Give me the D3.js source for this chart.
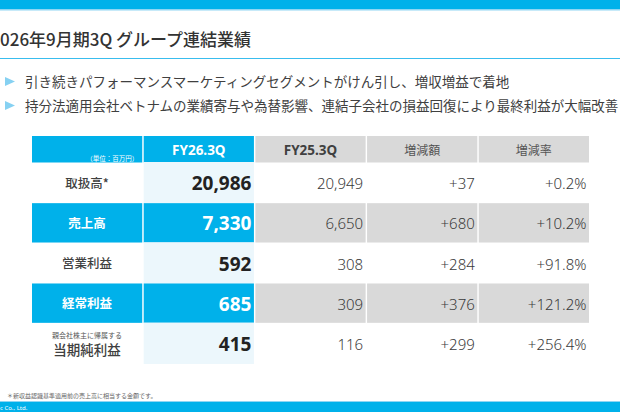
<!DOCTYPE html>
<html>
<head>
<meta charset="utf-8">
<script src="https://cdn.jsdelivr.net/npm/d3@7"></script>
<style>
  html, body { margin: 0; padding: 0; background: #fff; }
  svg { display: block; }
</style>
</head>
<body>
<div id="chart"></div>
<script>
"use strict"

// ---- data ----
let title = "2026年9月期3Q グループ連結業績";
let bullets = [
    "引き続きパフォーマンスマーケティングセグメントがけん引し、増収増益で着地",
    "持分法適用会社ベトナムの業績寄与や為替影響、連結子会社の損益回復により最終利益が大幅改善"
];
let columns = ["label", "fy26", "fy25", "diff", "rate"];
let headers = ["", "FY26.3Q", "FY25.3Q", "増減額", "増減率"];
let unitNote = "（単位：百万円）";
let rowLabels = ["取扱高*", "売上高", "営業利益", "経常利益", "当期純利益"];
let rowSubLabels = ["", "", "", "", "親会社株主に帰属する"];
let fy26 = ["20,986", "7,330", "592", "685", "415"];
let fy25 = ["20,949", "6,650", "308", "309", "116"];
let diff = ["+37", "+680", "+284", "+376", "+299"];
let rate = ["+0.2%", "+10.2%", "+91.8%", "+121.2%", "+256.4%"];
let highlighted = ["売上高", "経常利益"];
let footnote = "＊新収益認識基準適用前の売上高に相当する金額です。";
let copyright = "c Co., Ltd.";

let W = 620, H = 412;
let blue = "#00b1ea", gray = "#d9d9d9", pale = "#ecf7fc";
let jp = "'Noto Sans CJK JP', 'Noto Sans', sans-serif";
let num = "'Noto Sans', 'Noto Sans CJK JP', sans-serif";

let svg = d3.select("#chart").append("svg")
    .attr("width", W)
    .attr("height", H);

drawFrame();
drawBullets();
drawTable();

function drawFrame() {
    svg.append("rect").attr("x", 0).attr("y", 0).attr("width", W).attr("height", 9)
        .style("fill", blue);
    svg.append("rect").attr("x", 0).attr("y", 9).attr("width", W).attr("height", 1.5)
        .style("fill", "#8fd6f3");

    // title runs off the left edge, as on the slide
    svg.append("text")
        .attr("x", -9.7)
        .attr("y", 46)
        .style("font-family", jp)
        .style("font-size", "17px")
        .style("font-weight", 500)
        .style("fill", "#333")
        .text(title);

    svg.append("line")
        .attr("x1", 0).attr("x2", W)
        .attr("y1", 58.5).attr("y2", 58.5)
        .style("stroke", "#39bdee")
        .style("stroke-width", "1px");

    svg.append("text")
        .attr("x", 7)
        .attr("y", 397.5)
        .style("font-family", jp)
        .style("font-size", "6px")
        .style("fill", "#666")
        .text(footnote);

    svg.append("rect").attr("x", 0).attr("y", 401).attr("width", W).attr("height", 1)
        .style("fill", "#8fd6f3");
    svg.append("rect").attr("x", 0).attr("y", 402).attr("width", W).attr("height", 10)
        .style("fill", blue);
    svg.append("text")
        .attr("x", 0)
        .attr("y", 409.5)
        .style("font-family", num)
        .style("font-size", "6px")
        .style("fill", "#fff")
        .text(copyright);
}

function drawBullets() {
    let y = d3.scaleBand()
        .domain(d3.range(bullets.length))
        .range([70, 118]);

    let g = svg.append("g");
    bullets.forEach(function(b, i) {
        let cy = y(i) + y.bandwidth() / 2 - 0.5;
        g.append("path")
            .attr("d", "M5," + (cy - 4.5) + "L15," + cy + "L5," + (cy + 4.5) + "Z")
            .style("fill", "#86d1f2");
        g.append("text")
            .attr("x", 25)
            .attr("y", cy + 5)
            .style("font-family", jp)
            .style("font-size", "13.5px")
            .style("fill", "#404040")
            .text(b);
    });
}

function drawTable() {
    let x = d3.scaleBand()
        .domain(columns)
        .range([32, 589])
        .paddingInner(0.013);

    let y = d3.scaleBand()
        .domain(rowLabels)
        .range([163, 363])
        .paddingInner(0.02);

    let headTop = 136, headBottom = 162.5;
    let g = svg.append("g");

    // header cells
    columns.forEach(function(c, j) {
        g.append("rect")
            .attr("x", x(c))
            .attr("y", headTop)
            .attr("width", x.bandwidth())
            .attr("height", headBottom - headTop)
            .style("fill", j < 2 ? blue : gray);
        if (headers[j] !== "") {
            let isFy = headers[j].indexOf("FY") === 0;
            g.append("text")
                .attr("x", x(c) + x.bandwidth() / 2)
                .attr("y", 155)
                .attr("text-anchor", "middle")
                .style("font-family", isFy ? num : jp)
                .style("font-size", isFy ? "13.5px" : "12px")
                .style("font-weight", isFy ? 700 : 400)
                .style("fill", j === 1 ? "#fff" : (isFy ? "#404040" : "#555"))
                .text(headers[j]);
        }
    });
    g.append("text")
        .attr("x", x("label") + x.bandwidth() - 4)
        .attr("y", 161)
        .attr("text-anchor", "end")
        .style("font-family", jp)
        .style("font-size", "6.5px")
        .style("fill", "#fff")
        .text(unitNote);

    // body rows
    let values = { fy26: fy26, fy25: fy25, diff: diff, rate: rate };
    rowLabels.forEach(function(r, i) {
        let hl = highlighted.indexOf(r) >= 0;
        let top = y(r), h = y.bandwidth(), mid = top + h / 2;

        columns.forEach(function(c, j) {
            let fill = hl ? (j < 2 ? blue : gray) : (j === 1 ? pale : "#fff");
            if (j === 1 && !hl) {
                // pale column runs through the small row gaps
                g.append("rect")
                    .attr("x", x(c)).attr("y", top - 1)
                    .attr("width", x.bandwidth()).attr("height", h + 2)
                    .style("fill", fill);
            } else {
                g.append("rect")
                    .attr("x", x(c)).attr("y", top)
                    .attr("width", x.bandwidth()).attr("height", h)
                    .style("fill", fill);
            }
        });

        // row label
        let lx = x("label") + x.bandwidth() / 2;
        if (rowSubLabels[i] !== "") {
            g.append("text")
                .attr("x", lx).attr("y", mid - 5.5)
                .attr("text-anchor", "middle")
                .style("font-family", jp)
                .style("font-size", "7px")
                .style("fill", "#555")
                .text(rowSubLabels[i]);
            g.append("text")
                .attr("x", lx).attr("y", mid + 11.5)
                .attr("text-anchor", "middle")
                .style("font-family", jp)
                .style("font-size", "13.5px")
                .style("font-weight", 500)
                .style("fill", "#404040")
                .text(r);
        } else {
            g.append("text")
                .attr("x", lx).attr("y", mid + 5)
                .attr("text-anchor", "middle")
                .style("font-family", jp)
                .style("font-size", "12.5px")
                .style("font-weight", hl ? 700 : 500)
                .style("fill", hl ? "#fff" : "#404040")
                .text(r);
        }

        // values
        ["fy26", "fy25", "diff", "rate"].forEach(function(c) {
            let main = c === "fy26";
            g.append("text")
                .attr("x", x(c) + x.bandwidth() - 2.5)
                .attr("y", mid + (main ? 7.5 : 6.5))
                .attr("text-anchor", "end")
                .style("font-family", num)
                .style("font-size", main ? "19px" : "15px")
                .style("font-weight", main ? 700 : 300)
                .style("fill", main ? (hl ? "#fff" : "#222") : "#3a3a3a")
                .text(values[c][i]);
        });
    });
}
</script>
</body>
</html>
